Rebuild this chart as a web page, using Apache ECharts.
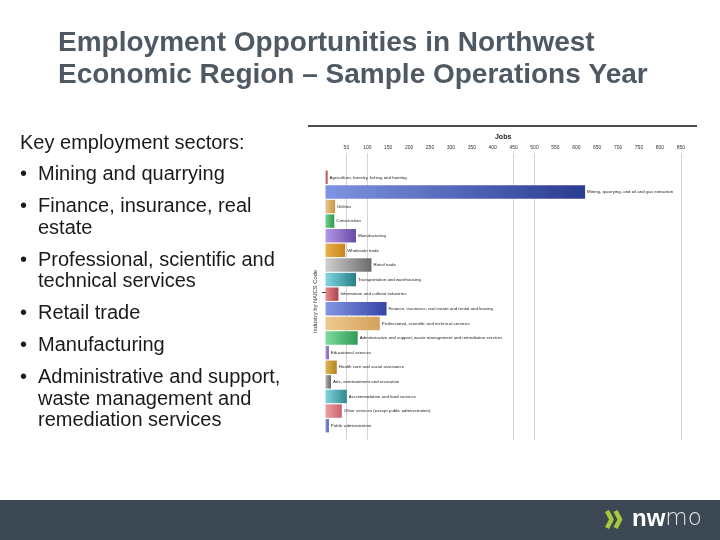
<!DOCTYPE html>
<html><head><meta charset="utf-8">
<script src="https://cdn.jsdelivr.net/npm/echarts@6/dist/echarts.min.js"></script>
<style>html,body{margin:0;padding:0;background:#fff}#c{width:720px;height:540px}</style>
</head><body><div id="c"></div>
<script>
var categories = [
  "Agriculture, forestry, fishing and hunting",
  "Mining, quarrying, and oil and gas extraction",
  "Utilities",
  "Construction",
  "Manufacturing",
  "Wholesale trade",
  "Retail trade",
  "Transportation and warehousing",
  "Information and cultural industries",
  "Finance, insurance, real estate and rental and leasing",
  "Professional, scientific and technical services",
  "Administrative and support, waste management and remediation services",
  "Educational services",
  "Health care and social assistance",
  "Arts, entertainment and recreation",
  "Accommodation and food services",
  "Other services (except public administration)",
  "Public administration"
];
var jobs = [5, 621, 23, 21, 73, 47, 110, 73, 31, 146, 130, 77, 8, 27, 13, 51, 39, 8];
var gridLineValues = [50, 100, 450, 500, 850];
var axisMin = 0, axisMax = 850, axisStep = 50;
var titleLines = ["Employment Opportunities in Northwest", "Economic Region \u2013 Sample Operations Year"];
var introText = "Key employment sectors:";
var bullets = [
  ["Mining and quarrying"],
  ["Finance, insurance, real", "estate"],
  ["Professional, scientific and", "technical services"],
  ["Retail trade"],
  ["Manufacturing"],
  ["Administrative and support,", "waste management and", "remediation services"]
];

var lightColors = ["#d98080","#7f93e3","#e6c58e","#6fd08a","#b298e6","#e9b04e","#cfcfcf","#7fd6de","#e38a8a","#8596e3","#edc98f","#7fdc9c","#b99de6","#deb556","#b5b5b5","#80d5da","#eca0a0","#8f9fe0"];
var darkColors  = ["#a83a3a","#2b3c8e","#c9954a","#2f9a4e","#6a4aa8","#c98518","#6b6b6b","#267f88","#b0424e","#3444a8","#d2a25a","#2f9b55","#7552b0","#b48420","#606060","#2e8790","#c86070","#4a5cb8"];

var chart = echarts.init(document.getElementById('c'));
var barData = jobs.map(function (v, i) {
  return {
    value: v,
    itemStyle: {
      color: new echarts.graphic.LinearGradient(0, 0, 1, 0, [
        {offset: 0, color: lightColors[i % lightColors.length]},
        {offset: 1, color: darkColors[i % darkColors.length]}
      ])
    }
  };
});

var FONT = '"Liberation Sans", Arial, sans-serif';
var graphics = [];
titleLines.forEach(function (t, i) {
  graphics.push({type: 'text', left: 58, top: 29 + i * 32,
    style: {text: t, fill: '#4f5963', font: 'bold 28px ' + FONT}});
});
graphics.push({type: 'text', left: 20, top: 133.5,
  style: {text: introText, fill: '#1a1a1a', font: '20px ' + FONT}});
var yy = 164.5;
bullets.forEach(function (b) {
  graphics.push({type: 'text', left: 20, top: yy,
    style: {text: '\u2022', fill: '#1a1a1a', font: '20px ' + FONT}});
  b.forEach(function (line, j) {
    graphics.push({type: 'text', left: 38, top: yy + j * 21.5,
      style: {text: line, fill: '#1a1a1a', font: '20px ' + FONT}});
  });
  yy += b.length * 21.5 + 10.5;
});
graphics.push({type: 'line', shape: {x1: 308, y1: 126, x2: 697, y2: 126}, style: {stroke: '#111', lineWidth: 1.5}});
graphics.push({type: 'line', shape: {x1: 322, y1: 292.5, x2: 326, y2: 292.5}, style: {stroke: '#333', lineWidth: 1}});
graphics.push({type: 'rect', shape: {x: 0, y: 500, width: 720, height: 40}, style: {fill: '#3c4954'}});
[607, 615.5].forEach(function (x0) {
  graphics.push({type: 'polyline', shape: {points: [[x0, 511], [x0 + 4.5, 519.5], [x0, 528]]},
    style: {stroke: '#a6c83a', lineWidth: 4.5, fill: null, lineJoin: 'round', lineCap: 'butt'}});
});
graphics.push({type: 'text', left: 632, top: 507,
  style: {text: '{a|nw}{b|mo}', rich: {
    a: {fill: '#ffffff', fontSize: 24, fontWeight: 'bold', fontFamily: FONT},
    b: {fill: '#e8e8e8', fontSize: 23, fontWeight: 'lighter', fontFamily: '"DejaVu Sans", sans-serif'}
  }}});

chart.setOption({
  animation: false,
  grid: [
    {left: 325.5, right: 39.2, top: 170, bottom: 107, containLabel: false},
    {left: 325.5, right: 39.2, top: 153, bottom: 100, containLabel: false}
  ],
  xAxis: [{
    type: 'value', position: 'top', min: axisMin, max: axisMax, interval: axisStep,
    name: 'Jobs', nameLocation: 'middle', nameGap: 29,
    nameTextStyle: {fontSize: 7, fontWeight: 'bold', color: '#222'},
    axisLine: {show: false}, axisTick: {show: false}, splitLine: {show: false},
    axisLabel: {fontSize: 5, color: '#333', margin: 20,
      formatter: function (v) { return v === 0 ? '' : String(v); }}
  }, {
    gridIndex: 1, type: 'value', min: axisMin, max: axisMax, show: false
  }],
  yAxis: [{
    type: 'category', data: categories, inverse: true,
    name: 'Industry by NAICS Code', nameLocation: 'middle', nameRotate: 90, nameGap: 7,
    nameTextStyle: {fontSize: 5.8, color: '#333'},
    axisLine: {show: false}, axisTick: {show: false}, axisLabel: {show: false}
  }, {
    gridIndex: 1, type: 'value', min: 0, max: 1, show: false
  }],
  series: [{
    type: 'line', xAxisIndex: 1, yAxisIndex: 1, data: [], z: 0, zlevel: 0, silent: true,
    markLine: {
      z: 0, silent: true, symbol: 'none', label: {show: false},
      lineStyle: {color: '#d4d4d4', width: 1, type: 'solid'},
      data: gridLineValues.map(function (v) { return {xAxis: v}; })
    }
  }, {
    type: 'bar', data: barData, barCategoryGap: '8%', z: 3,
    label: {show: true, position: 'right', distance: 2, formatter: '{b}', fontSize: 4.4, color: '#222'}
  }],
  graphic: graphics
});
</script>
</body></html>
